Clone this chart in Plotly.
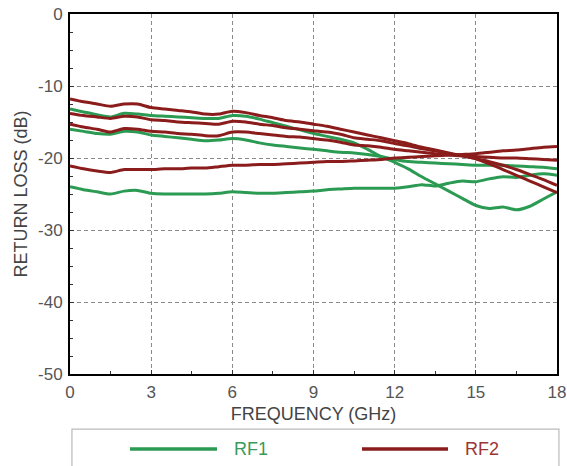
import plotly.graph_objects as go

freq_ghz = [0, 0.5, 1, 1.5, 2, 2.5, 3, 3.5, 4, 4.5, 5, 5.5, 6, 6.5, 7, 7.5, 8, 8.5, 9,
            9.5, 10, 10.5, 11, 11.5, 12, 12.5, 13, 13.5, 14, 14.5, 15, 15.5, 16, 16.5,
            17, 17.5, 18]

# RF1 (green) curves
rf1_a = [-13.2, -13.6, -14.0, -14.3, -13.8, -13.9, -14.1, -14.2, -14.3, -14.4, -14.5, -14.5,
         -14.1, -14.2, -14.6, -15.1, -15.6, -16.1, -16.6, -17.0, -17.4, -17.9, -18.8, -19.8,
         -20.6, -21.5, -22.6, -23.6, -24.6, -25.6, -26.6, -27.0, -26.8, -27.2, -26.7, -25.7,
         -24.7]
rf1_b = [-16.0, -16.3, -16.6, -16.7, -16.3, -16.4, -16.8, -17.0, -17.2, -17.4, -17.6, -17.5,
         -17.3, -17.5, -17.9, -18.2, -18.4, -18.6, -18.8, -19.0, -19.2, -19.3, -19.5, -19.8,
         -20.2, -20.5, -20.6, -20.7, -20.8, -20.9, -21.0, -21.0, -21.0, -21.1, -21.2, -21.3,
         -21.5]
rf1_c = [-24.0, -24.4, -24.7, -25.0, -24.6, -24.5, -24.9, -25.0, -25.0, -25.0, -25.0, -24.9,
         -24.7, -24.8, -24.9, -24.9, -24.8, -24.7, -24.6, -24.4, -24.3, -24.2, -24.2, -24.2,
         -24.2, -24.0, -23.7, -23.9, -23.5, -23.2, -23.3, -22.9, -22.6, -22.7, -22.4, -22.2,
         -22.4]

# RF2 (dark red) curves
rf2_a = [-11.8, -12.2, -12.5, -12.8, -12.5, -12.5, -13.0, -13.2, -13.4, -13.6, -13.9, -13.9,
         -13.5, -13.7, -14.1, -14.4, -14.8, -15.0, -15.3, -15.6, -16.0, -16.4, -16.8, -17.2,
         -17.6, -18.0, -18.5, -18.9, -19.3, -19.7, -20.1, -20.8, -21.6, -22.4, -23.2, -24.0,
         -24.8]
rf2_b = [-13.8, -14.1, -14.3, -14.5, -14.2, -14.3, -14.7, -14.8, -15.0, -15.1, -15.2, -15.3,
         -14.9, -15.0, -15.3, -15.5, -15.8, -16.0, -16.2, -16.4, -16.7, -17.2, -17.4, -17.6,
         -18.0, -18.3, -18.7, -19.0, -19.4, -19.7, -20.1, -20.5, -21.0, -21.6, -22.3, -23.0,
         -23.8]
rf2_c = [-15.3, -15.7, -16.0, -16.4, -15.9, -16.0, -16.3, -16.4, -16.6, -16.7, -16.9, -16.9,
         -16.4, -16.4, -16.6, -16.8, -17.0, -17.1, -17.3, -17.5, -17.8, -18.2, -18.3, -18.5,
         -18.8, -19.0, -19.2, -19.4, -19.6, -19.7, -19.8, -19.9, -20.0, -20.0, -20.1, -20.2,
         -20.3]
rf2_d = [-21.1, -21.5, -21.8, -22.0, -21.6, -21.6, -21.6, -21.5, -21.5, -21.4, -21.4, -21.2,
         -21.0, -21.0, -20.9, -20.9, -20.8, -20.7, -20.6, -20.5, -20.5, -20.4, -20.3, -20.2,
         -20.0, -19.9, -19.8, -19.7, -19.6, -19.5, -19.4, -19.2, -19.0, -18.9, -18.7, -18.5,
         -18.4]

series_names = ["RF1", "RF2"]
x_ticks = [0, 3, 6, 9, 12, 15, 18]
y_ticks = [0, -10, -20, -30, -40, -50]

GREEN = "#2b9a52"
RED = "#8b1c1c"
FONT = "Liberation Sans, Arial, sans-serif"

fig = go.Figure()
for ys in [rf1_a, rf1_b, rf1_c]:
    fig.add_trace(go.Scatter(x=freq_ghz, y=ys, mode="lines", name=series_names[0],
                             legendgroup="rf1", showlegend=False,
                             line=dict(color=GREEN, width=3, shape="spline", smoothing=0.6)))
for ys in [rf2_a, rf2_b, rf2_c, rf2_d]:
    fig.add_trace(go.Scatter(x=freq_ghz, y=ys, mode="lines", name=series_names[1],
                             legendgroup="rf2", showlegend=False,
                             line=dict(color=RED, width=3, shape="spline", smoothing=0.6)))

axis_common = dict(
    showline=True, linecolor="black", linewidth=2, mirror=True,
    showgrid=True, gridcolor="#8a8a8a", gridwidth=1.3, griddash="4px,3px",
    zeroline=False, ticks="inside", ticklen=4, tickcolor="#333", automargin=False,
    tickfont=dict(family=FONT, size=17, color="#555"),
    title_font=dict(family=FONT, size=18, color="#444"),
)

fig.update_xaxes(range=[0, 18], tickvals=x_ticks, ticktext=[str(v) for v in x_ticks],
                 title_text="FREQUENCY (GHz)", title_standoff=6, ticklabelstandoff=2,
                 minor=dict(dtick=1.5, ticks="inside", ticklen=3, tickcolor="#333", showgrid=False),
                 **axis_common)
fig.update_yaxes(range=[-50, 0], tickvals=y_ticks, ticktext=[str(v) for v in y_ticks],
                 title_text="RETURN LOSS (dB)", title_standoff=6, ticklabelstandoff=2,
                 minor=dict(dtick=2.5, ticks="inside", ticklen=3, tickcolor="#333", showgrid=False),
                 **axis_common)

# legend box (extends below the visible page, as in the reference)
fig.add_shape(type="rect", xref="paper", yref="paper", x0=0.004, x1=1.004, y0=-0.32, y1=-0.153,
              line=dict(color="#bbbbbb", width=1.2), fillcolor="rgba(0,0,0,0)", layer="below")
# legend samples
legend_items = [(series_names[0], GREEN, "#3a9a5a", 0.1232, 0.3018),
                (series_names[1], RED, "#9b3535", 0.5996, 0.7762)]
for name, lc, tc, x0, x1 in legend_items:
    fig.add_shape(type="line", xref="paper", yref="paper", x0=x0, x1=x1, y0=-0.2083, y1=-0.2083,
                  line=dict(color=lc, width=3.5))
    fig.add_annotation(xref="paper", yref="paper", x=x1 + 0.03, y=-0.2083, text=name,
                       showarrow=False, xanchor="left", yanchor="middle",
                       font=dict(family=FONT, size=18, color=tc))

fig.update_layout(
    width=567, height=466,
    margin=dict(l=70, r=10, t=14, b=92),
    paper_bgcolor="white", plot_bgcolor="white",
    showlegend=False,
)

fig.write_html("out.html", config={"displayModeBar": False},
               post_script="document.body.style.margin='0px';document.body.style.overflow='hidden';")
